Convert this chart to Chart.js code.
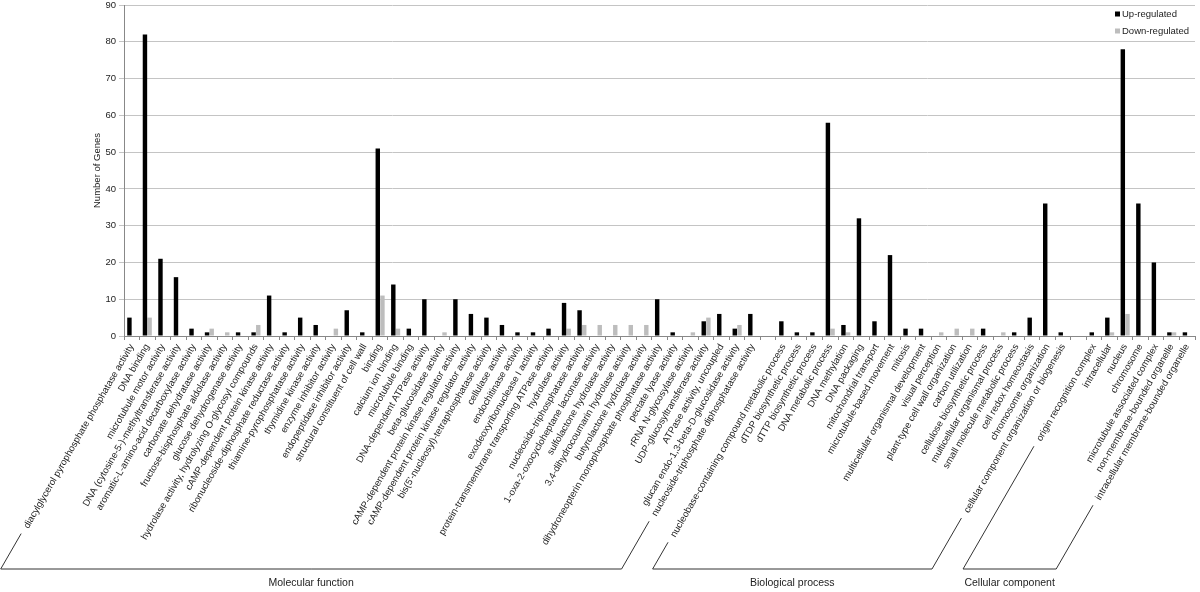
<!DOCTYPE html>
<html>
<head>
<meta charset="utf-8">
<script src="https://cdn.jsdelivr.net/npm/chart.js@4.4.0/dist/chart.umd.min.js"></script>
<style>
html,body{margin:0;padding:0;background:#fff;}
#c{display:block;}
</style>
</head>
<body>
<canvas id="c" width="1200" height="592"></canvas>
<script>
const categories = [
  "diacylglycerol pyrophosphate phosphatase activity",
  "DNA binding",
  "microtubule motor activity",
  "DNA (cytosine-5-)-methyltransferase activity",
  "aromatic-L-amino-acid decarboxylase activity",
  "carbonate dehydratase activity",
  "fructose-bisphosphate aldolase activity",
  "glucose dehydrogenase activity",
  "hydrolase activity, hydrolyzing O-glycosyl compounds",
  "cAMP-dependent protein kinase activity",
  "ribonucleoside-diphosphate reductase activity",
  "thiamine-pyrophosphatase activity",
  "thymidine kinase activity",
  "enzyme inhibitor activity",
  "endopeptidase inhibitor activity",
  "structural constituent of cell wall",
  "binding",
  "calcium ion binding",
  "microtubule binding",
  "DNA-dependent ATPase activity",
  "beta-glucosidase activity",
  "cAMP-dependent protein kinase regulator activity",
  "cAMP-dependent protein kinase regulator activity",
  "bis(5'-nucleosyl)-tetraphosphatase activity",
  "cellulase activity",
  "endochitinase activity",
  "exodeoxyribonuclease I activity",
  "protein-transmembrane transporting ATPase activity",
  "hydrolase activity",
  "nucleoside-triphosphatase activity",
  "1-oxa-2-oxocycloheptane lactonase activity",
  "sulfolactone hydrolase activity",
  "3,4-dihydrocoumarin hydrolase activity",
  "butyrolactone hydrolase activity",
  "dihydroneopterin monophosphate phosphatase activity",
  "pectate lyase activity",
  "rRNA N-glycosylase activity",
  "UDP-glucosyltransferase activity",
  "ATPase activity, uncoupled",
  "glucan endo-1,3-beta-D-glucosidase activity",
  "nucleoside-triphosphate diphosphatase activity",
  "",
  "nucleobase-containing compound metabolic process",
  "dTDP biosynthetic process",
  "dTTP biosynthetic process",
  "DNA metabolic process",
  "DNA methylation",
  "DNA packaging",
  "mitochondrial transport",
  "microtubule-based movement",
  "mitosis",
  "multicellular organismal development",
  "visual perception",
  "plant-type cell wall organization",
  "carbon utilization",
  "cellulose biosynthetic process",
  "multicellular organismal process",
  "small molecule metabolic process",
  "cell redox homeostasis",
  "chromosome organization",
  "cellular component organization or biogenesis",
  "",
  "origin recognition complex",
  "intracellular",
  "nucleus",
  "chromosome",
  "microtubule associated complex",
  "non-membrane-bounded organelle",
  "intracellular membrane-bounded organelle"
];

const upRegulated = [
  5, 82, 21, 16, 2, 1, 0, 1, 1, 11,
  1, 5, 3, 0, 7, 1, 51, 14, 2, 10,
  0, 10, 6, 5, 3, 1, 1, 2, 9, 7,
  0, 0, 0, 0, 10, 1, 0, 4, 6, 2,
  6, 0, 4, 1, 1, 58, 3, 32, 4, 22,
  2, 2, 0, 0, 0, 2, 0, 1, 5, 36,
  1, 0, 1, 5, 78, 36, 20, 1, 1
];

const downRegulated = [
  0, 5, 0, 0, 0, 2, 1, 0, 3, 0,
  0, 0, 0, 2, 0, 0, 11, 2, 0, 0,
  1, 0, 0, 0, 0, 0, 0, 0, 2, 3,
  3, 3, 3, 3, 0, 0, 1, 5, 0, 3,
  0, 0, 0, 0, 0, 2, 1, 0, 0, 0,
  0, 0, 1, 2, 2, 0, 1, 0, 0, 0,
  0, 0, 0, 1, 6, 0, 0, 1, 0
];

const seriesNames = ["Up-regulated", "Down-regulated"];
const groupNames = ["Molecular function", "Biological process", "Cellular component"];
const groupStart = [0, 42, 62];
const groupEnd = [40, 60, 68];

const FONT = '"Liberation Sans", Arial, Helvetica, sans-serif';
const LABEL_SIZE = 9.5;

const bracketPlugin = {
  id: 'groupBrackets',
  afterDraw(chart) {
    const ctx = chart.ctx, xs = chart.scales.x;
    const ang = Math.PI / 3;
    const dx = -Math.cos(ang), dy = Math.sin(ang);
    const y0 = xs.top + 4 + 2;
    const lineY = 569;
    ctx.save();
    ctx.strokeStyle = '#333';
    ctx.lineWidth = 1;
    function diag(i) {
      ctx.font = LABEL_SIZE + 'px ' + FONT;
      const x = xs.getPixelForValue(i);
      const w = ctx.measureText(categories[i]).width + 10;
      const top = {x: x + dx * w, y: y0 + dy * w};
      const t = (lineY - top.y) / dy;
      return [top, {x: top.x + dx * t, y: lineY}];
    }
    groupNames.forEach((name, g) => {
      const [lt, lb] = diag(groupStart[g]);
      const [rt, rb] = diag(groupEnd[g]);
      ctx.beginPath();
      ctx.moveTo(lt.x, lt.y);
      ctx.lineTo(lb.x, lb.y);
      ctx.lineTo(rb.x, rb.y);
      ctx.lineTo(rt.x, rt.y);
      ctx.stroke();
      ctx.font = '10.5px ' + FONT;
      ctx.fillStyle = '#222';
      ctx.textAlign = 'center';
      ctx.textBaseline = 'middle';
      ctx.fillText(name, (lb.x + rb.x) / 2, lineY + 14);
    });
    ctx.restore();
  }
};

const legendPlugin = {
  id: 'cornerLegend',
  afterDraw(chart) {
    const ctx = chart.ctx, a = chart.chartArea;
    ctx.save();
    ctx.font = LABEL_SIZE + 'px ' + FONT;
    ctx.textBaseline = 'middle';
    ctx.textAlign = 'left';
    chart.data.datasets.forEach((ds, k) => {
      const y = a.top + 9 + k * 17;
      const x = a.right - 80;
      ctx.fillStyle = ds.backgroundColor;
      ctx.fillRect(x, y - 2.5, 5, 5);
      ctx.fillStyle = '#222';
      ctx.fillText(ds.label, x + 7, y);
    });
    ctx.restore();
  }
};

new Chart(document.getElementById('c'), {
  type: 'bar',
  data: {
    labels: categories,
    datasets: [
      {label: seriesNames[0], data: upRegulated, backgroundColor: '#000000', categoryPercentage: 0.6, barPercentage: 0.95},
      {label: seriesNames[1], data: downRegulated, backgroundColor: '#bdbdbd', categoryPercentage: 0.6, barPercentage: 0.95}
    ]
  },
  options: {
    responsive: false,
    animation: false,
    layout: {padding: {left: 88, top: 5, right: 5, bottom: 0}},
    plugins: {legend: {display: false}, tooltip: {enabled: false}},
    scales: {
      x: {
        grid: {drawOnChartArea: false, tickLength: 4, color: '#888'},
        border: {color: '#888'},
        ticks: {autoSkip: false, minRotation: 60, maxRotation: 60, padding: 2, color: '#222',
                font: {size: LABEL_SIZE, family: FONT}},
        afterFit(s) { s.height = 256; }
      },
      y: {
        min: 0, max: 90,
        ticks: {stepSize: 10, padding: 3, color: '#222', font: {size: LABEL_SIZE, family: FONT, lineHeight: 1}},
        grid: {color: '#c4c4c4', tickLength: 5},
        border: {color: '#888'},
        title: {display: true, text: 'Number of Genes', color: '#222',
                font: {size: LABEL_SIZE, family: FONT}, padding: {top: 4, bottom: 4}},
        afterFit(s) { s.width = 36; s.paddingTop = 0; s.paddingBottom = 0; }
      }
    }
  },
  plugins: [bracketPlugin, legendPlugin]
});
</script>
</body>
</html>
